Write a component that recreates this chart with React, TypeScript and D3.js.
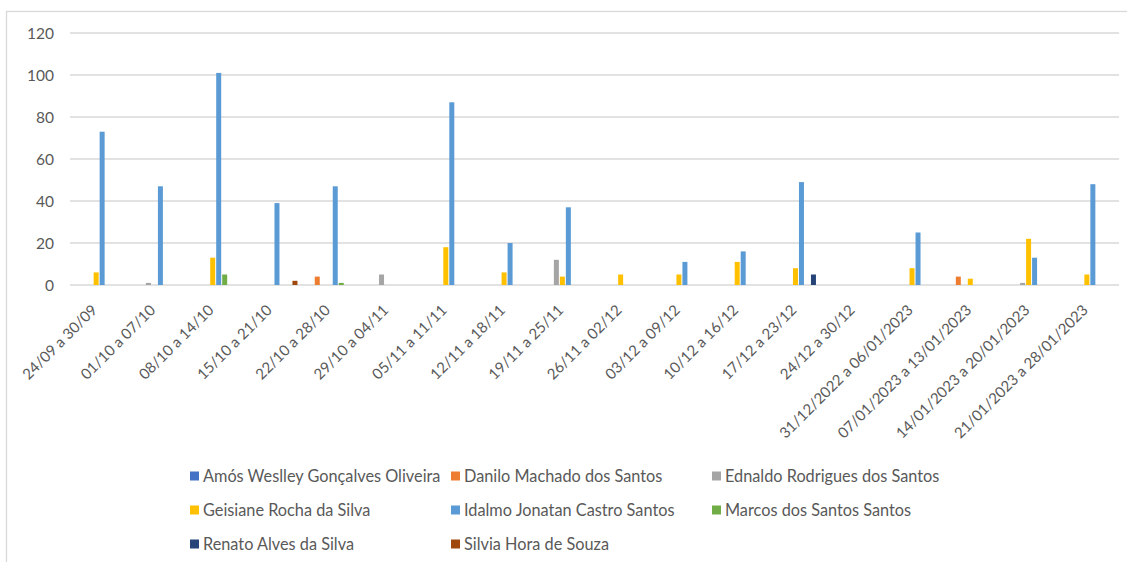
import React from "react";
import * as d3 from "d3";

const categories = [
  "24/09 a 30/09",
  "01/10 a 07/10",
  "08/10 a 14/10",
  "15/10 a 21/10",
  "22/10 a 28/10",
  "29/10 a 04/11",
  "05/11 a 11/11",
  "12/11 a 18/11",
  "19/11 a 25/11",
  "26/11 a 02/12",
  "03/12 a 09/12",
  "10/12 a 16/12",
  "17/12 a 23/12",
  "24/12 a 30/12",
  "31/12/2022 a 06/01/2023",
  "07/01/2023 a 13/01/2023",
  "14/01/2023 a 20/01/2023",
  "21/01/2023 a 28/01/2023",
];

const seriesNames = [
  "Amós Weslley Gonçalves Oliveira",
  "Danilo Machado dos Santos",
  "Ednaldo Rodrigues dos Santos",
  "Geisiane Rocha da Silva",
  "Idalmo Jonatan Castro Santos",
  "Marcos dos Santos Santos",
  "Renato Alves da Silva",
  "Silvia Hora de Souza",
];

const seriesColors = ["#4472C4", "#ED7D31", "#A5A5A5", "#FFC000", "#5B9BD5", "#70AD47", "#264478", "#9E480E"];

const amos = [0, 0, 0, 0, 0, 0, 0, 0, 0, 0, 0, 0, 0, 0, 0, 0, 0, 0];
const danilo = [0, 0, 0, 0, 4, 0, 0, 0, 0, 0, 0, 0, 0, 0, 0, 4, 0, 0];
const ednaldo = [0, 1, 0, 0, 0, 5, 0, 0, 12, 0, 0, 0, 0, 0, 0, 0, 1, 0];
const geisiane = [6, 0, 13, 0, 0, 0, 18, 6, 4, 5, 5, 11, 8, 0, 8, 3, 22, 5];
const idalmo = [73, 47, 101, 39, 47, 0, 87, 20, 37, 0, 11, 16, 49, 0, 25, 0, 13, 48];
const marcos = [0, 0, 5, 0, 1, 0, 0, 0, 0, 0, 0, 0, 0, 0, 0, 0, 0, 0];
const renato = [0, 0, 0, 0, 0, 0, 0, 0, 0, 0, 0, 0, 5, 0, 0, 0, 0, 0];
const silvia = [0, 0, 0, 2, 0, 0, 0, 0, 0, 0, 0, 0, 0, 0, 0, 0, 0, 0];

const seriesValues = [amos, danilo, ednaldo, geisiane, idalmo, marcos, renato, silvia];

const yTicks = [0, 20, 40, 60, 80, 100, 120];

const FONT = "Lato, 'Open Sans', sans-serif";
const TEXT = "#595959";
const GRID = "#D9D9D9";

export default function App() {
  const W = 1127;
  const H = 562;
  const left = 70;
  const right = 1119;
  const top = 33;
  const bottom = 285;

  const x0 = d3
    .scaleBand<string>()
    .domain(categories)
    .range([left, right])
    .paddingInner(0.177)
    .paddingOuter(0.0885);
  const x1 = d3
    .scaleBand<string>()
    .domain(seriesNames)
    .range([0, x0.bandwidth()])
    .padding(0);
  const y = d3.scaleLinear().domain([0, 120]).range([bottom, top]);

  const legendCols = [190, 451, 712];
  const legendRows = [476, 510, 544];

  return (
    <svg
      width={W}
      height={H}
      style={{ position: "absolute", left: 0, top: 0, background: "#fff" }}
      fontFamily={FONT}
    >
      <rect x={0} y={0} width={W} height={H} fill="#fff" />
      <rect x={6.5} y={11.5} width={W + 20} height={H + 20} fill="none" stroke={GRID} strokeWidth={1.3} />
      {yTicks.map((t) => (
        <g key={t}>
          <line x1={left} x2={right} y1={y(t)} y2={y(t)} stroke={GRID} strokeWidth={1.5} />
          <text x={54} y={y(t)} dy="0.36em" textAnchor="end" fontSize={15.5} fill={TEXT}>
            {t}
          </text>
        </g>
      ))}
      {categories.map((c, ci) => (
        <g key={c} transform={`translate(${x0(c)},0)`}>
          {seriesNames.map((s, si) => {
            const v = seriesValues[si][ci];
            if (!v) return null;
            return (
              <rect
                key={s}
                x={(x1(s) as number) + 0.5}
                y={y(v)}
                width={x1.bandwidth() - 1}
                height={y(0) - y(v)}
                fill={seriesColors[si]}
              />
            );
          })}
        </g>
      ))}
      {categories.map((c) => {
        const cx = (x0(c) as number) + x0.bandwidth() / 2;
        return (
          <text
            key={c}
            transform={`translate(${cx - 1},${311}) rotate(-45)`}
            textAnchor="end"
            fontSize={15}
            fill={TEXT}
          >
            {c}
          </text>
        );
      })}
      {seriesNames.map((s, i) => {
        const col = i % 3;
        const row = Math.floor(i / 3);
        const lx = legendCols[col];
        const ly = legendRows[row];
        return (
          <g key={s}>
            <rect x={lx} y={ly - 4.5} width={9} height={9} fill={seriesColors[i]} />
            <text x={lx + 13} y={ly} dy="0.35em" fontSize={16.3} fill={TEXT}>
              {s}
            </text>
          </g>
        );
      })}
    </svg>
  );
}
